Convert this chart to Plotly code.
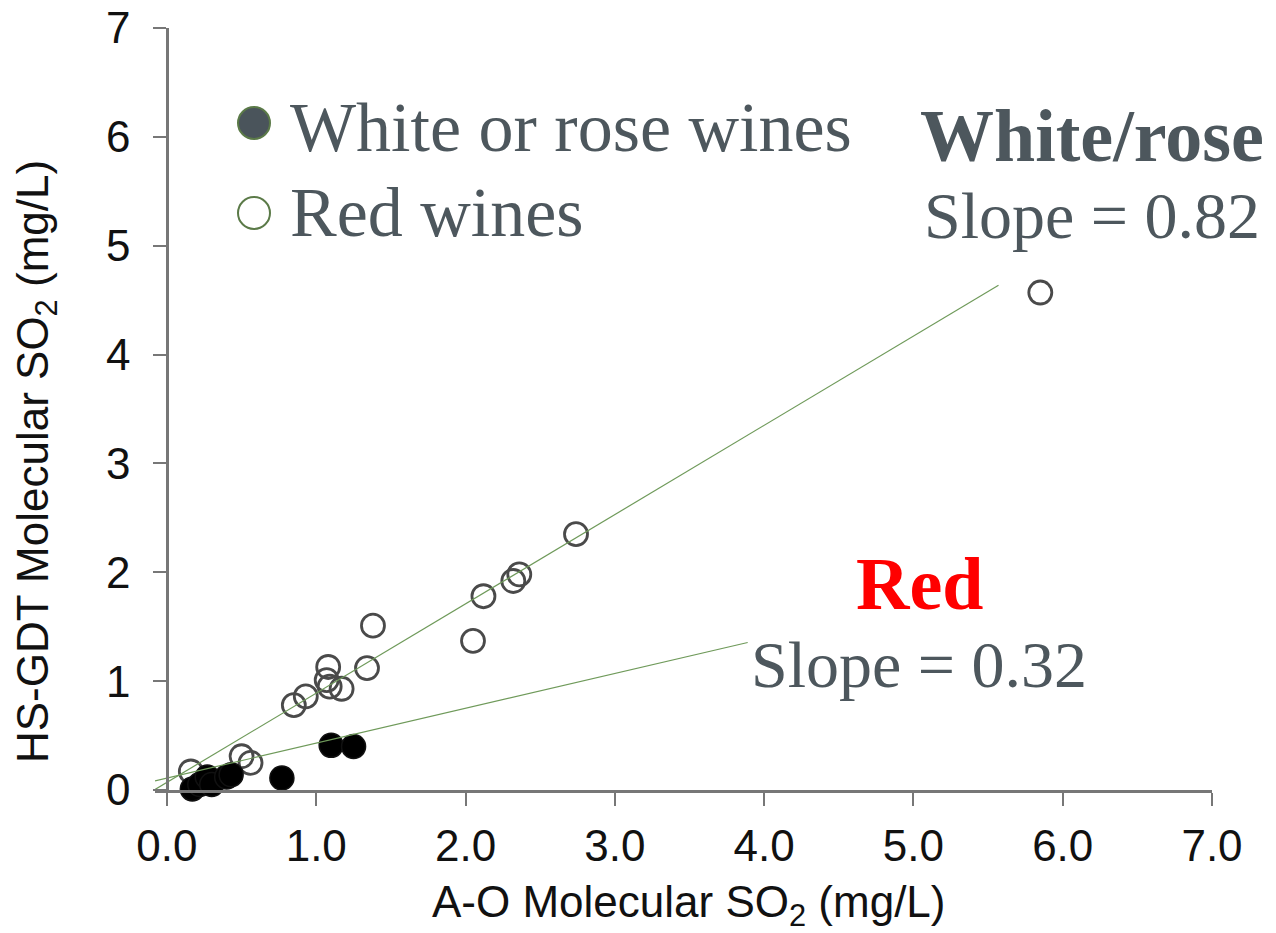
import plotly.graph_objects as go

# Red wines (open circles)
red_x = [0.16, 0.50, 0.56, 0.85, 0.93, 1.07, 1.08, 1.09, 1.17, 1.34, 1.38, 2.05, 2.12, 2.32, 2.36, 2.74, 5.85]
red_y = [0.17, 0.31, 0.25, 0.78, 0.86, 1.01, 1.13, 0.95, 0.93, 1.12, 1.51, 1.37, 1.78, 1.92, 1.98, 2.35, 4.57]

# White or rose wines (filled circles)
white_x = [0.17, 0.22, 0.27, 0.30, 0.40, 0.43, 0.77, 1.10, 1.25]
white_y = [0.01, 0.05, 0.12, 0.05, 0.12, 0.14, 0.11, 0.41, 0.40]

# Fitted lines: slope, intercept and x extent
upper_slope, upper_icpt = 0.82, 0.07
upper_x = [-0.08, 5.57]
lower_slope, lower_icpt = 0.32, 0.11
lower_x = [-0.08, 3.89]

x_ticks = [0, 1, 2, 3, 4, 5, 6, 7]
x_tick_labels = ["0.0", "1.0", "2.0", "3.0", "4.0", "5.0", "6.0", "7.0"]
y_ticks = [0, 1, 2, 3, 4, 5, 6, 7]

W, H = 1276, 933
L, R, T, B = 155, 1212, 28, 790
X_MIN, X_MAX = -0.08, 7.0


def px_x(p):
    return (p - L) / (R - L)


def px_y(p):
    return (B - p) / (B - T)


AXIS = "#777777"
TEXT = "#4d575d"
LINE_GREEN = "#6f9a5a"
SANS = "Liberation Sans, Arial, sans-serif"
SERIF = "Liberation Serif, Times New Roman, serif"

fig = go.Figure()

fig.add_trace(go.Scatter(
    x=red_x, y=red_y, mode="markers", name="Red wines",
    marker=dict(size=23, color="rgba(0,0,0,0)", line=dict(color="#4a4a4a", width=2.8)),
    cliponaxis=False, showlegend=False,
))
fig.add_trace(go.Scatter(
    x=white_x, y=white_y, mode="markers", name="White or rose wines",
    marker=dict(size=24, color="#000000", line=dict(color="#111111", width=1.5)),
    cliponaxis=False, showlegend=False,
))
fig.add_trace(go.Scatter(
    x=upper_x, y=[upper_slope * v + upper_icpt for v in upper_x], mode="lines",
    line=dict(color=LINE_GREEN, width=1.2), showlegend=False,
))
fig.add_trace(go.Scatter(
    x=lower_x, y=[lower_slope * v + lower_icpt for v in lower_x], mode="lines",
    line=dict(color=LINE_GREEN, width=1.2), showlegend=False,
))

# Hand-drawn legend
shapes = [
    dict(type="circle", xref="paper", yref="paper", xsizemode="pixel", ysizemode="pixel",
         xanchor=px_x(254), yanchor=px_y(123), x0=-16, x1=16, y0=-16, y1=16,
         fillcolor="#4a545b", line=dict(color="#5b7a48", width=2)),
    dict(type="circle", xref="paper", yref="paper", xsizemode="pixel", ysizemode="pixel",
         xanchor=px_x(254), yanchor=px_y(213), x0=-16, x1=16, y0=-16, y1=16,
         fillcolor="rgba(0,0,0,0)", line=dict(color="#5b7a48", width=2)),
]

annotations = [
    dict(text="White or rose wines", x=px_x(288), y=px_y(127), xanchor="left", yanchor="middle",
         font=dict(family=SERIF, size=70, color=TEXT)),
    dict(text="Red wines", x=px_x(288), y=px_y(213), xanchor="left", yanchor="middle",
         font=dict(family=SERIF, size=70, color=TEXT)),
    dict(text="<b>White/rose</b>", x=px_x(1092), y=px_y(136), xanchor="center", yanchor="middle",
         font=dict(family=SERIF, size=74, color=TEXT)),
    dict(text="Slope = 0.82", x=px_x(1092), y=px_y(216), xanchor="center", yanchor="middle",
         font=dict(family=SERIF, size=66, color=TEXT)),
    dict(text="<b>Red</b>", x=px_x(919), y=px_y(584), xanchor="center", yanchor="middle",
         font=dict(family=SERIF, size=74, color="#ff0000")),
    dict(text="Slope = 0.32", x=px_x(919), y=px_y(664), xanchor="center", yanchor="middle",
         font=dict(family=SERIF, size=66, color=TEXT)),
    dict(text="A-O Molecular SO<sub>2</sub> (mg/L)", x=px_x(688), y=px_y(905),
         xanchor="center", yanchor="middle",
         font=dict(family=SANS, size=44, color="#111111")),
    dict(text="HS-GDT Molecular SO<sub>2</sub> (mg/L)", x=px_x(36), y=px_y(462),
         xanchor="center", yanchor="middle", textangle=-90,
         font=dict(family=SANS, size=44, color="#111111")),
]
for a in annotations:
    a.update(xref="paper", yref="paper", showarrow=False)

fig.update_layout(
    width=W, height=H,
    margin=dict(l=L, r=W - R, t=T, b=H - B, autoexpand=False),
    paper_bgcolor="white", plot_bgcolor="white",
    showlegend=False,
    shapes=shapes, annotations=annotations,
    xaxis=dict(
        range=[X_MIN, X_MAX], tickvals=x_ticks, ticktext=x_tick_labels,
        showgrid=False, zeroline=False, showline=True, linecolor=AXIS, linewidth=2.5,
        ticks="outside", ticklen=13, tickwidth=2, tickcolor=AXIS,
        tickfont=dict(family=SANS, size=44, color="#111111"),
        ticklabelstandoff=2,
        automargin=False,
    ),
    yaxis=dict(
        range=[0, 7], tickvals=y_ticks, anchor="free", position=(0 - X_MIN) / (X_MAX - X_MIN),
        showgrid=False, zeroline=False, showline=True, linecolor=AXIS, linewidth=2.5,
        ticks="outside", ticklen=13, tickwidth=2, tickcolor=AXIS,
        tickfont=dict(family=SANS, size=44, color="#111111"),
        ticklabelstandoff=14,
        automargin=False,
    ),
)

fig.write_html("out.html")
